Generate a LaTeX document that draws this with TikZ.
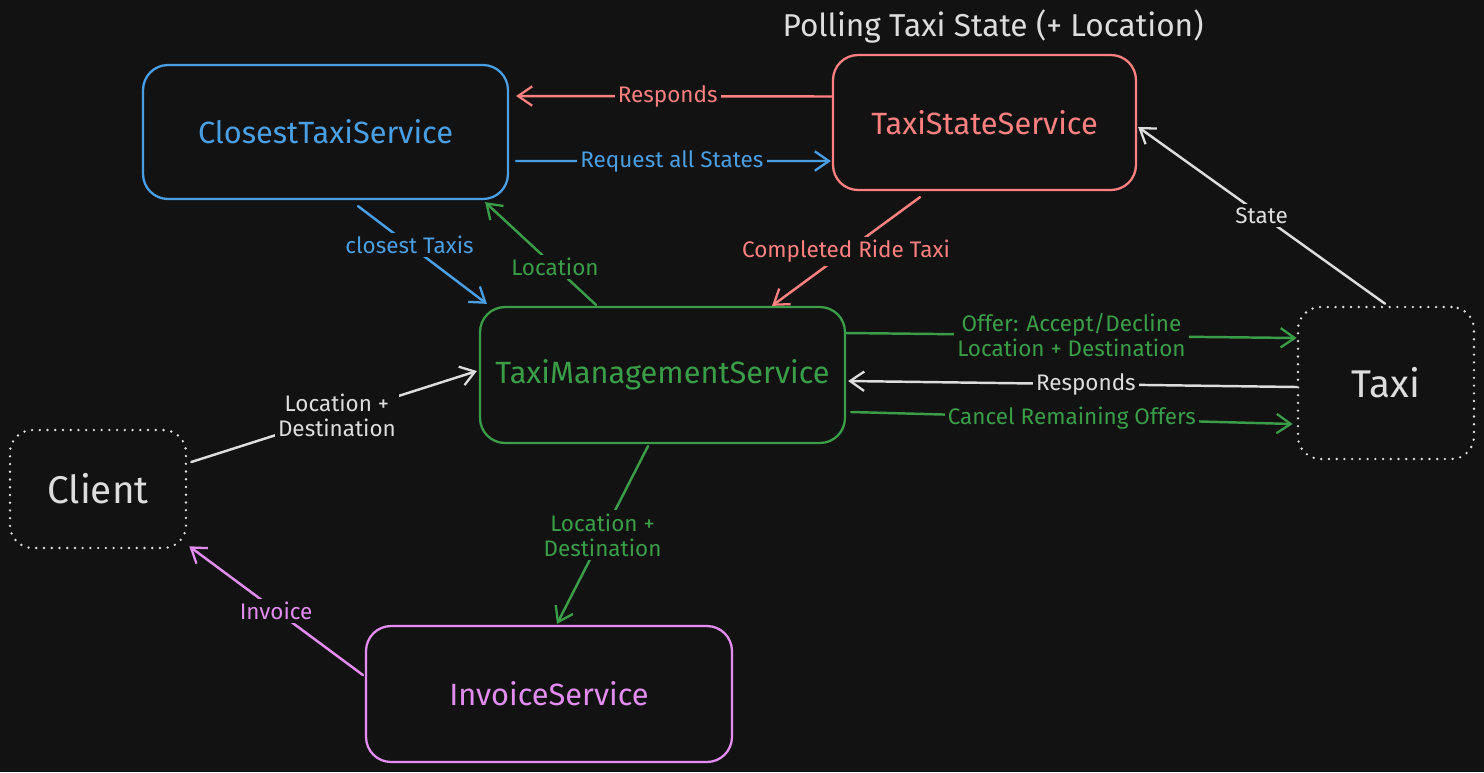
\documentclass[tikz,border=0pt]{standalone}
\usepackage{fontspec}
\setmainfont{Fira Sans}
\usetikzlibrary{arrows.meta,calc}
\definecolor{bg}{HTML}{121212}
\definecolor{cblue}{HTML}{4A9FE3}
\definecolor{cred}{HTML}{FF8080}
\definecolor{cgreen}{HTML}{3A9E48}
\definecolor{cviolet}{HTML}{E28CF0}
\definecolor{cwhite}{HTML}{DDDDDD}
\tikzset{
  svcbox/.style={draw, line width=1.3pt, rounded corners=0.5cm, align=center,
    font=\fontsize{17.5}{21}\selectfont, inner sep=0pt},
  actor/.style={draw=cwhite, text=cwhite, line width=1.5pt, rounded corners=0.45cm,
    dash pattern=on 0pt off 4.4pt, line cap=round, align=center,
    font=\fontsize{22}{26}\selectfont, inner sep=0pt},
  conn/.style={line width=1.4pt, line cap=round, line join=round,
    -{Straight Barb[length=8pt,width=11pt,line width=1.3pt]}},
  lab/.style={fill=bg, inner sep=1.8pt, align=center,
    font=\fontsize{12.8}{14.2}\selectfont},
}
\begin{document}
\begin{tikzpicture}[x=0.02cm,y=-0.02cm]
\fill[bg] (0,0) rectangle (1484,772);
\useasboundingbox (0,0) rectangle (1484,772);

% title
\node[text=cwhite, font=\fontsize{18}{21}\selectfont] (title) at (993,26) {Polling Taxi State (+ Location)};

% boxes
\node[svcbox, draw=cblue, text=cblue, minimum width=7.3cm, minimum height=2.68cm] (cts) at (325.5,132) {ClosestTaxiService};
\node[svcbox, draw=cred, text=cred, minimum width=6.06cm, minimum height=2.7cm] (tss) at (984.5,122.5) {TaxiStateService};
\node[svcbox, draw=cgreen, text=cgreen, minimum width=7.3cm, minimum height=2.72cm] (tms) at (662.5,375) {TaxiManagementService};
\node[svcbox, draw=cviolet, text=cviolet, minimum width=7.32cm, minimum height=2.72cm] (inv) at (549,694) {InvoiceService};
\node[actor, minimum width=3.52cm, minimum height=2.36cm] (client) at (98,489) {Client};
\node[actor, minimum width=3.52cm, minimum height=3.04cm] (taxi) at (1386,383) {Taxi};

% connectors
\draw[conn, cred] ($(tss.west)+(0,-26)$) -- node[lab, text=cred, pos=0.52] {Responds} ($(cts.east)+(7,-36)$);
\draw[conn, cblue] ($(cts.east)+(7,29)$) -- node[lab, text=cblue, pos=0.495] {Request all States} ($(tss.west)+(-1,38.5)$);
\draw[conn, cblue] ($(cts.south)+(32.5,6)$) -- node[lab, text=cblue, pos=0.4] {closest Taxis} ($(tms.north west)+(8,-2)$);
\draw[conn, cgreen] ($(tms.north)+(-66.5,-1)$) -- node[lab, text=cgreen, pos=0.37] {Location} ($(cts.south east)+(-24,2)$);
\draw[conn, cred] ($(tss.south)+(-64.5,6)$) -- node[lab, text=cred, pos=0.5] {Completed Ride Taxi} ($(tms.north)+(109.5,0)$);
\draw[conn, cgreen] ($(tms.east)+(0,-42)$) -- node[lab, text=cgreen, pos=0.5] {Offer: Accept/Decline\\Location + Destination} ($(taxi.west)+(0,-45)$);
\draw[conn, cwhite] ($(taxi.west)+(0,4)$) -- node[lab, text=cwhite, pos=0.47] {Responds} ($(tms.east)+(2,6)$);
\draw[conn, cgreen] ($(tms.east)+(5,37)$) -- node[lab, text=cgreen, pos=0.5] {Cancel Remaining Offers} ($(taxi.west)+(-4,41)$);
\draw[conn, cwhite] ($(client.east)+(4,-27)$) -- node[lab, text=cwhite, pos=0.51] {Location +\\Destination} ($(tms.west)+(-2,-4)$);
\draw[conn, cgreen] ($(tms.south)+(-14.5,2)$) -- node[lab, text=cgreen, pos=0.5] {Location +\\Destination} ($(inv.north)+(8,-1)$);
\draw[conn, cviolet] ($(inv.west)+(-2,-19)$) -- node[lab, text=cviolet, pos=0.5] {Invoice} ($(client.south east)+(2,-3)$);
\draw[conn, cwhite] ($(taxi.north)+(-1,-2)$) -- node[lab, text=cwhite, pos=0.5] {State} ($(tss.east)+(1,4.5)$);
\end{tikzpicture}
\end{document}
